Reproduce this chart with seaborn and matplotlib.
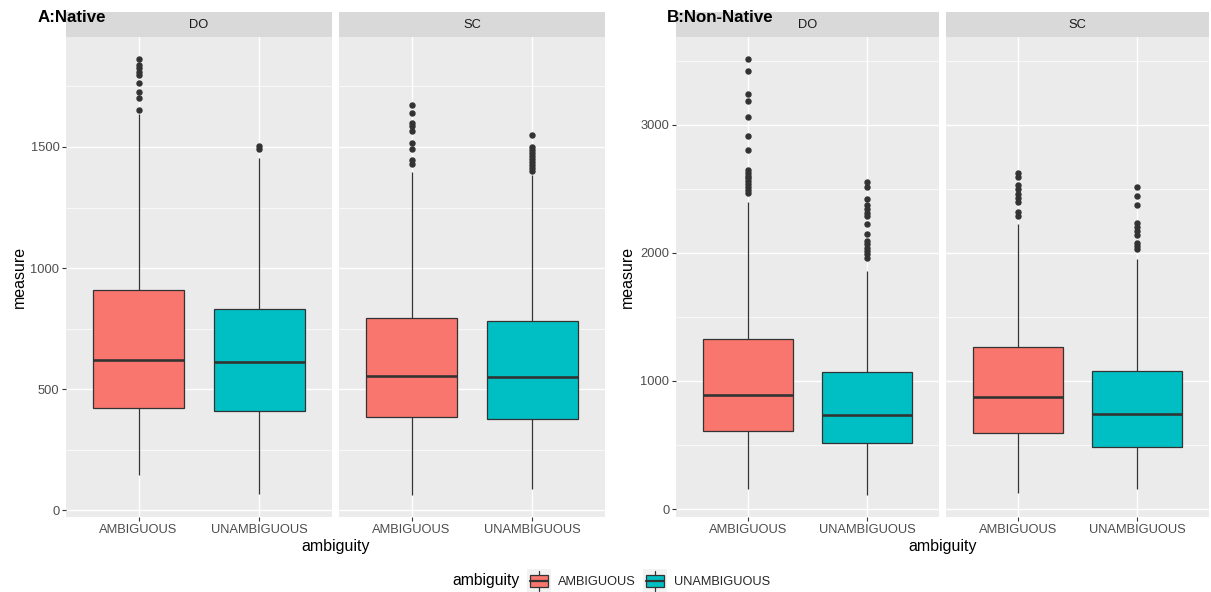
import matplotlib
matplotlib.use("Agg")
import matplotlib.pyplot as plt
import numpy as np
import pandas as pd
import seaborn as sns
from matplotlib.ticker import MultipleLocator
from matplotlib.legend_handler import HandlerBase
from matplotlib.patches import Rectangle, Patch
from matplotlib.lines import Line2D

# ---- data -----------------------------------------------------------------
groups = ["AMBIGUOUS", "UNAMBIGUOUS"]
conditions = ["DO", "SC"]
palette = ["#F8766D", "#00BFC4"]

# box summaries: (lower whisker, Q1, median, Q3, upper whisker)
native_do_amb = [146, 423, 622, 909, 1635]
native_do_amb_out = [1865, 1840, 1825, 1810, 1795, 1763, 1728, 1701, 1654]
native_do_unamb = [67, 411, 613, 832, 1455]
native_do_unamb_out = [1505, 1490]
native_sc_amb = [63, 386, 556, 795, 1395]
native_sc_amb_out = [1675, 1640, 1600, 1585, 1565, 1515, 1490, 1445, 1430]
native_sc_unamb = [88, 377, 551, 782, 1385]
native_sc_unamb_out = [1551, 1500, 1488, 1475, 1462, 1450, 1437, 1424, 1412, 1400]

nonnative_do_amb = [156, 610, 891, 1329, 2400]
nonnative_do_amb_out = [3516, 3419, 3237, 3182, 3062, 2914, 2804, 2650, 2625,
                        2600, 2580, 2560, 2540, 2515, 2490, 2470]
nonnative_do_unamb = [109, 516, 735, 1071, 1860]
nonnative_do_unamb_out = [2550, 2510, 2420, 2370, 2340, 2310, 2290, 2226, 2148,
                          2090, 2065, 2040, 2015, 1990, 1960]
nonnative_sc_amb = [125, 594, 876, 1267, 2225]
nonnative_sc_amb_out = [2620, 2590, 2530, 2500, 2460, 2430, 2400, 2320, 2290]
nonnative_sc_unamb = [156, 485, 743, 1079, 1950]
nonnative_sc_unamb_out = [2512, 2447, 2374, 2231, 2200, 2170, 2140, 2080, 2050, 2030]

panel_titles = ["A:Native", "B:Non-Native"]
panel_ticks = [[0, 500, 1000, 1500], [0, 1000, 2000, 3000]]


def expand(summary, outliers, m=40):
    """Sample whose quartiles, whiskers and outliers equal the given summary."""
    lo, q1, med, q3, hi = summary
    k = len(outliers)
    return [lo] + [q1] * m + [med] * m + [q3] * m + [hi] * (m - k) + sorted(outliers)


cells = {
    ("A:Native", "DO", "AMBIGUOUS"): (native_do_amb, native_do_amb_out),
    ("A:Native", "DO", "UNAMBIGUOUS"): (native_do_unamb, native_do_unamb_out),
    ("A:Native", "SC", "AMBIGUOUS"): (native_sc_amb, native_sc_amb_out),
    ("A:Native", "SC", "UNAMBIGUOUS"): (native_sc_unamb, native_sc_unamb_out),
    ("B:Non-Native", "DO", "AMBIGUOUS"): (nonnative_do_amb, nonnative_do_amb_out),
    ("B:Non-Native", "DO", "UNAMBIGUOUS"): (nonnative_do_unamb, nonnative_do_unamb_out),
    ("B:Non-Native", "SC", "AMBIGUOUS"): (nonnative_sc_amb, nonnative_sc_amb_out),
    ("B:Non-Native", "SC", "UNAMBIGUOUS"): (nonnative_sc_unamb, nonnative_sc_unamb_out),
}

rows = []
for (panel, cond, amb), (summ, outs) in cells.items():
    for v in expand(summ, outs):
        rows.append((panel, cond, amb, v))
df = pd.DataFrame(rows, columns=["panel", "condition", "ambiguity", "measure"])

# ---- style ----------------------------------------------------------------
sns.set_theme(style="darkgrid")
plt.rcParams["font.family"] = ["Liberation Sans", "DejaVu Sans"]

W, H = 1211, 592
fig = plt.figure(figsize=(W / 100, H / 100), dpi=100)


def fx(px):
    return px / W


def fy(py):
    return 1 - py / H


panel_top, panel_bot = 36.7, 517.0
strip_top = 12.3
facet_x = [[(66, 332), (339, 605)], [(676, 939), (946, 1209)]]
ylab_x = [19, 627]
title_x = [38, 667]

tick_col = "#4D4D4D"
line_col = "#333333"

for p, panel in enumerate(panel_titles):
    sub_panel = df[df.panel == panel]
    vmin, vmax = sub_panel.measure.min(), sub_panel.measure.max()
    span = vmax - vmin
    ylim = (vmin - 0.05 * span, vmax + 0.05 * span)
    step = panel_ticks[p][1] - panel_ticks[p][0]

    for j, cond in enumerate(conditions):
        x0, x1 = facet_x[p][j]
        ax = fig.add_axes([fx(x0), fy(panel_bot), fx(x1 - x0),
                           (panel_bot - panel_top) / H])
        ax.set_facecolor("#EBEBEB")
        sub = sub_panel[sub_panel.condition == cond]
        sns.boxplot(data=sub, x="ambiguity", y="measure", hue="ambiguity",
                    order=groups, hue_order=groups, palette=palette,
                    saturation=1, width=0.75, linewidth=0.9,
                    linecolor=line_col, showcaps=False, fliersize=3.6,
                    flierprops=dict(marker="o", markerfacecolor=line_col,
                                    markeredgecolor=line_col),
                    medianprops=dict(linewidth=1.9, color=line_col),
                    legend=False, ax=ax)
        ax.set_xlim(-0.6, 1.6)
        ax.set_ylim(*ylim)
        ax.set_yticks(panel_ticks[p])
        ax.yaxis.set_minor_locator(MultipleLocator(step / 2))
        ax.set_axisbelow(True)
        ax.grid(which="major", color="white", linewidth=1.0)
        ax.grid(which="minor", axis="y", color="white", linewidth=0.5)
        for s in ax.spines.values():
            s.set_visible(False)
        ax.tick_params(which="major", length=2.7, width=0.8, color=line_col,
                       labelcolor=tick_col, labelsize=9.3, pad=2,
                       bottom=True, left=True)
        ax.tick_params(which="minor", length=0)
        ax.set_xlabel("")
        ax.set_ylabel("")
        if j == 1:
            ax.tick_params(axis="y", left=False, labelleft=False)

        # facet strip
        sax = fig.add_axes([fx(x0), fy(panel_top), fx(x1 - x0),
                            (panel_top - strip_top) / H])
        sax.set_facecolor("#D9D9D9")
        sax.set_xticks([])
        sax.set_yticks([])
        for s in sax.spines.values():
            s.set_visible(False)
        sax.text(0.5, 0.5, cond, ha="center", va="center", fontsize=9.3,
                 color="#1A1A1A", transform=sax.transAxes)

    left = facet_x[p][0][0]
    right = facet_x[p][1][1]
    fig.text(fx((left + right) / 2), fy(546), "ambiguity", ha="center",
             va="center", fontsize=11.5, color="black")
    fig.text(fx(ylab_x[p]), fy((panel_top + panel_bot) / 2), "measure",
             rotation=90, ha="center", va="center", fontsize=11.5,
             color="black")
    fig.text(fx(title_x[p]), fy(18), panel, ha="left", va="center",
             fontsize=12.2, fontweight="bold", color="black")


# ---- legend ---------------------------------------------------------------
class BoxKey(HandlerBase):
    def create_artists(self, legend, orig_handle, xdescent, ydescent,
                       width, height, fontsize, trans):
        x0, y0 = -xdescent, -ydescent
        fc = orig_handle.get_facecolor()
        bg = Rectangle((x0, y0), width, height, facecolor="#F2F2F2",
                       edgecolor="none", transform=trans)
        xm = x0 + width / 2
        w1 = Line2D([xm, xm], [y0 + 0.1 * height, y0 + 0.25 * height],
                    color=line_col, lw=0.9, transform=trans)
        w2 = Line2D([xm, xm], [y0 + 0.75 * height, y0 + 0.9 * height],
                    color=line_col, lw=0.9, transform=trans)
        box = Rectangle((x0 + 0.125 * width, y0 + 0.25 * height),
                        0.75 * width, 0.5 * height, facecolor=fc,
                        edgecolor=line_col, lw=0.9, transform=trans)
        med = Line2D([x0 + 0.125 * width, x0 + 0.875 * width],
                     [y0 + 0.5 * height] * 2, color=line_col, lw=1.6,
                     transform=trans)
        return [bg, w1, w2, box, med]


handles = [Patch(facecolor=c) for c in palette]
fig.text(fx(452), fy(581), "ambiguity", ha="left", va="center",
         fontsize=11.3, color="black")
fig.legend(handles, groups, handler_map={Patch: BoxKey()}, loc="center left",
           bbox_to_anchor=(fx(527), fy(581)), ncol=2, frameon=False,
           fontsize=9.2, handlelength=1.85, handleheight=2.55,
           handletextpad=0.55, columnspacing=0.6, borderpad=0,
           borderaxespad=0)

fig.savefig("out.png", dpi=100, facecolor="white")
